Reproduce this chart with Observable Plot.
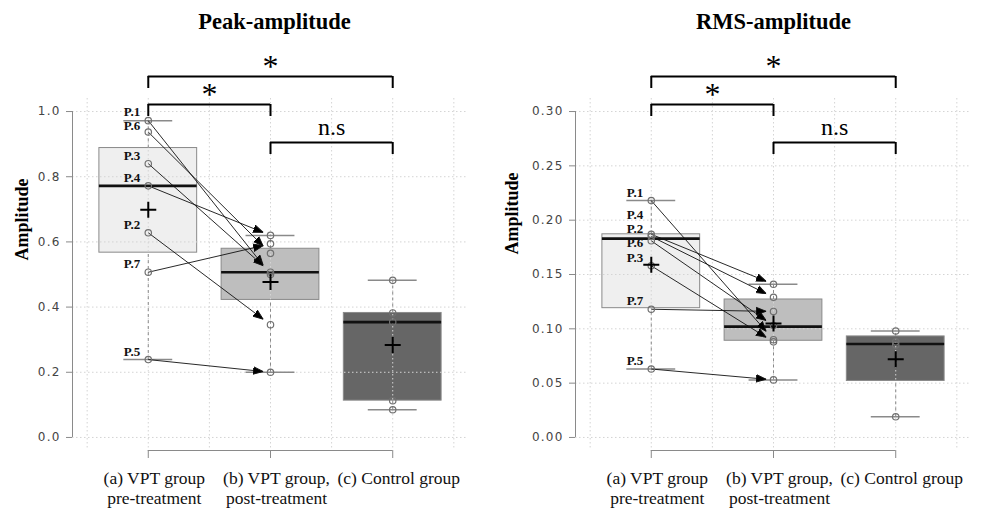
<!DOCTYPE html>
<html><head><meta charset="utf-8">
<script src="https://cdn.jsdelivr.net/npm/d3@7"></script>
<script src="https://cdn.jsdelivr.net/npm/@observablehq/plot@0.6"></script>
<style>
body{margin:0;background:#fff;}
#wrap{position:relative;width:984px;height:510px;overflow:hidden;background:#fff;}
#p1,#p2{position:absolute;top:0;}
#p1{left:0;width:490px;}
#p2{left:490px;width:494px;}
[aria-label="y-axis tick label"] text{letter-spacing:1.2px;}
</style></head><body>
<div id="wrap"><div id="p1"></div><div id="p2"></div></div>
<script>
// ---------- data ----------
const groupLabels = ["(a) VPT group\npre-treatment", "(b) VPT group,\npost-treatment", "(c) Control group"];
const patients = ["P.1", "P.2", "P.3", "P.4", "P.5", "P.6", "P.7"];

// Peak-amplitude
const peakPre  = [0.972, 0.628, 0.840, 0.772, 0.239, 0.937, 0.507];
const peakPost = [0.500, 0.346, 0.507, 0.620, 0.200, 0.565, 0.594];
const peakCtrl = [0.482, 0.382, 0.354, 0.113, 0.085];
const peakQ1   = [0.567, 0.422, 0.113];
const peakMed  = [0.772, 0.507, 0.354];
const peakQ3   = [0.888, 0.579, 0.382];
const peakMean = [0.699, 0.477, 0.284];
const peakTicks = [0, 0.2, 0.4, 0.6, 0.8, 1.0];

// RMS-amplitude
const rmsPre  = [0.218, 0.185, 0.158, 0.187, 0.063, 0.181, 0.118];
const rmsPost = [0.090, 0.129, 0.088, 0.141, 0.053, 0.103, 0.116];
const rmsCtrl = [0.098, 0.088, 0.085, 0.019];
const rmsQ1   = [0.119, 0.089, 0.052];
const rmsMed  = [0.183, 0.102, 0.086];
const rmsQ3   = [0.187, 0.127, 0.093];
const rmsMean = [0.159, 0.105, 0.072];
const rmsTicks = [0, 0.05, 0.10, 0.15, 0.20, 0.25, 0.30];

// significance annotations (pairs of group indices)
const sigPairs = [
  {from: 1, to: 3, label: "*"},
  {from: 1, to: 2, label: "*"},
  {from: 2, to: 3, label: "n.s"}
];

// ---------- helpers ----------
const SERIF = "Liberation Serif, Times New Roman, serif";
const boxFills = ["#efefef", "#bebebe", "#666666"];

const crossSymbol = {
  draw(ctx, size) {
    const r = Math.sqrt(size / Math.PI);
    ctx.moveTo(-r, 0); ctx.lineTo(r, 0);
    ctx.moveTo(0, -r); ctx.lineTo(0, r);
  }
};

function triangleMarker(color, context) {
  const doc = (context && context.document) || document;
  const ns = "http://www.w3.org/2000/svg";
  const m = doc.createElementNS(ns, "marker");
  m.setAttribute("viewBox", "-10 -5 10 10");
  m.setAttribute("markerWidth", "10");
  m.setAttribute("markerHeight", "10");
  m.setAttribute("markerUnits", "userSpaceOnUse");
  m.setAttribute("orient", "auto");
  m.setAttribute("refX", "0");
  m.setAttribute("refY", "0");
  const p = doc.createElementNS(ns, "path");
  p.setAttribute("d", "M-10,-3.8L0,0L-10,3.8Z");
  p.setAttribute("fill", "#000");
  m.appendChild(p);
  return m;
}

// resolve label overlaps (pixel space), keeping clusters centred
function dodge(desired, gap) {
  const items = desired.map((p, i) => ({i, p})).sort((a, b) => a.p - b.p);
  const blocks = [];
  for (const it of items) {
    blocks.push({items: [it], start: it.p});
    while (blocks.length > 1) {
      const b = blocks[blocks.length - 1], a = blocks[blocks.length - 2];
      const aEnd = a.start + (a.items.length - 1) * gap;
      if (b.start < aEnd + gap) {
        const its = a.items.concat(b.items);
        const mean = d3.mean(its, d => d.p);
        blocks.splice(blocks.length - 2, 2, {items: its, start: mean - (its.length - 1) * gap / 2});
      } else break;
    }
  }
  const out = new Array(desired.length);
  for (const b of blocks) b.items.forEach((it, k) => out[it.i] = b.start + k * gap);
  return out;
}

function panel(o) {
  const H = 510, mt = 98, mb = 60;
  const frameH = H - mt - mb;
  const ylim = [o.ticks[0], o.ticks[o.ticks.length - 1]];
  const pad = (ylim[1] - ylim[0]) * 0.04;
  const yDom = [ylim[0] - pad, ylim[1] + pad];
  const xPad = 3 * 0.04;
  const xDom = [0.5 - xPad, 3.5 + xPad];
  const pxPerUnit = frameH / (yDom[1] - yDom[0]);
  const yAtPx = px => yDom[1] - px / pxPerUnit;   // px measured down from frame top
  const pxOf = v => (yDom[1] - v) * pxPerUnit;

  const vals = [o.pre, o.post, o.ctrl];
  const boxes = [0, 1, 2].map(i => ({
    x: i + 1, q1: o.q1[i], med: o.med[i], q3: o.q3[i],
    lo: d3.min(vals[i]), hi: d3.max(vals[i]), mean: o.mean[i], fill: boxFills[i]
  }));
  const points = vals.flatMap((arr, i) => arr.map(v => ({x: i + 1, v})));
  const pairs = patients.map((p, i) => ({p, pre: o.pre[i], post: o.post[i]}));
  const labelPx = dodge(o.pre.map(v => pxOf(v) - 8), 14);
  const labels = patients.map((p, i) => ({p, y: yAtPx(labelPx[i])}));
  const xGrid = d3.range(0.5, 3.51, 0.5);

  // bracket levels (pixels from frame top) and leg length
  const levels = [-22, 6, 44], leg = 12;
  const br = sigPairs.map((s, k) => ({...s, y: yAtPx(levels[k]), yLeg: yAtPx(levels[k] + leg),
    yText: yAtPx(levels[k] + (s.label === "*" ? 0 : -8))}));
  const legs = br.flatMap(b => [{x: b.from, y1: b.y, y2: b.yLeg}, {x: b.to, y1: b.y, y2: b.yLeg}]);

  const gridStyle = {stroke: "#d4d4d4", strokeDasharray: "1.5,2.5", strokeWidth: 1};

  return Plot.plot({
    width: o.width, height: H,
    marginTop: mt, marginBottom: mb, marginLeft: o.marginLeft, marginRight: o.marginRight,
    x: {domain: xDom},
    y: {domain: yDom},
    color: {type: "identity"},
    style: {fontFamily: "DejaVu Sans, sans-serif", background: "white", overflow: "visible"},
    marks: [
      // boxes
      Plot.rect(boxes, {x1: d => d.x - 0.4, x2: d => d.x + 0.4, y1: "q1", y2: "q3", fill: "fill", stroke: "#8a8a8a", strokeWidth: 1}),
      // grid over boxes
      Plot.ruleY(o.ticks, {y: d => d, ...gridStyle}),
      Plot.ruleX(xGrid, {x: d => d, ...gridStyle}),
      // whiskers
      Plot.ruleX(boxes, {x: "x", y1: "q3", y2: "hi", stroke: "#8a8a8a", strokeDasharray: "3,3"}),
      Plot.ruleX(boxes, {x: "x", y1: "lo", y2: "q1", stroke: "#8a8a8a", strokeDasharray: "3,3"}),
      Plot.ruleY(boxes, {y: "hi", x1: d => d.x - 0.2, x2: d => d.x + 0.2, stroke: "#8a8a8a", strokeWidth: 1.5}),
      Plot.ruleY(boxes, {y: "lo", x1: d => d.x - 0.2, x2: d => d.x + 0.2, stroke: "#8a8a8a", strokeWidth: 1.5}),
      // medians
      Plot.ruleY(boxes, {y: "med", x1: d => d.x - 0.4, x2: d => d.x + 0.4, stroke: "#111", strokeWidth: 2.6}),
      // paired arrows pre -> post
      Plot.link(pairs, {
        x1: () => 1, y1: "pre",
        x2: () => 1.94, y2: d => d.pre + 0.94 * (d.post - d.pre),
        stroke: "#111", strokeWidth: 0.9, markerEnd: triangleMarker
      }),
      // points
      Plot.dot(points, {x: "x", y: "v", r: 3.2, stroke: "#707070", strokeWidth: 1.2, fill: "none"}),
      // means
      Plot.dot(boxes, {x: "x", y: "mean", r: 8, symbol: crossSymbol, stroke: "#000", strokeWidth: 2, fill: "none"}),
      // patient labels
      Plot.text(labels, {x: () => 1, y: "y", text: "p", dx: -8, textAnchor: "end",
        fontFamily: SERIF, fontWeight: "bold", fontSize: 13, fill: "#111"}),
      // axes
      Plot.ruleX([xDom[0]], {x: d => d, y1: ylim[0], y2: ylim[1], stroke: "#8a8a8a"}),
      Plot.axisY({ticks: o.ticks, tickFormat: o.fmt, tickSize: 6, tickPadding: 6, stroke: "#8a8a8a",
        fill: "#444", fontSize: 12, label: null}),
      Plot.ruleY([yDom[0]], {y: d => d, x1: () => 1, x2: () => 3, stroke: "#8a8a8a"}),
      Plot.axisX({ticks: [1, 2, 3], tickFormat: () => "", tickSize: 8, stroke: "#8a8a8a", label: null}),
      Plot.text(groupLabels, {x: (d, i) => i + 1, y: () => yDom[0], text: d => d, dy: 19, dx: 6,
        lineAnchor: "top", lineHeight: 1.15, fontFamily: SERIF, fontSize: 17.5, fill: "#111"}),
      // significance brackets
      Plot.ruleY(br, {y: "y", x1: "from", x2: "to", stroke: "#000", strokeWidth: 2}),
      Plot.ruleX(legs, {x: "x", y1: "y1", y2: "y2", stroke: "#000", strokeWidth: 2}),
      Plot.text(br, {x: d => (d.from + d.to) / 2, y: "yText", text: "label", lineAnchor: "bottom",
        fontFamily: SERIF, fontSize: d => d.label === "*" ? 32 : 24, fill: "#000"}),
      // title and y label
      Plot.text([o.title], {frameAnchor: "top", dy: -85, dx: o.titleDx, fontFamily: SERIF, fontWeight: "bold", fontSize: 22.5, fill: "#000"}),
      Plot.text(["Amplitude"], {frameAnchor: "left", dx: o.yLabelDx, dy: o.yLabelDy, rotate: -90,
        fontFamily: SERIF, fontWeight: "bold", fontSize: 18, fill: "#000"})
    ]
  });
}

document.getElementById("p1").append(panel({
  title: "Peak-amplitude", pre: peakPre, post: peakPost, ctrl: peakCtrl,
  q1: peakQ1, med: peakMed, q3: peakQ3, mean: peakMean, ticks: peakTicks, fmt: d3.format(".1f"),
  width: 490, marginLeft: 72, marginRight: 22, yLabelDx: -50, yLabelDy: -14, titleDx: 4
}));
document.getElementById("p2").append(panel({
  title: "RMS-amplitude", pre: rmsPre, post: rmsPost, ctrl: rmsCtrl,
  q1: rmsQ1, med: rmsMed, q3: rmsQ3, mean: rmsMean, ticks: rmsTicks, fmt: d3.format(".2f"),
  width: 494, marginLeft: 85, marginRight: 13, yLabelDx: -63, yLabelDy: -20, titleDx: 0
}));
</script>
</body></html>
